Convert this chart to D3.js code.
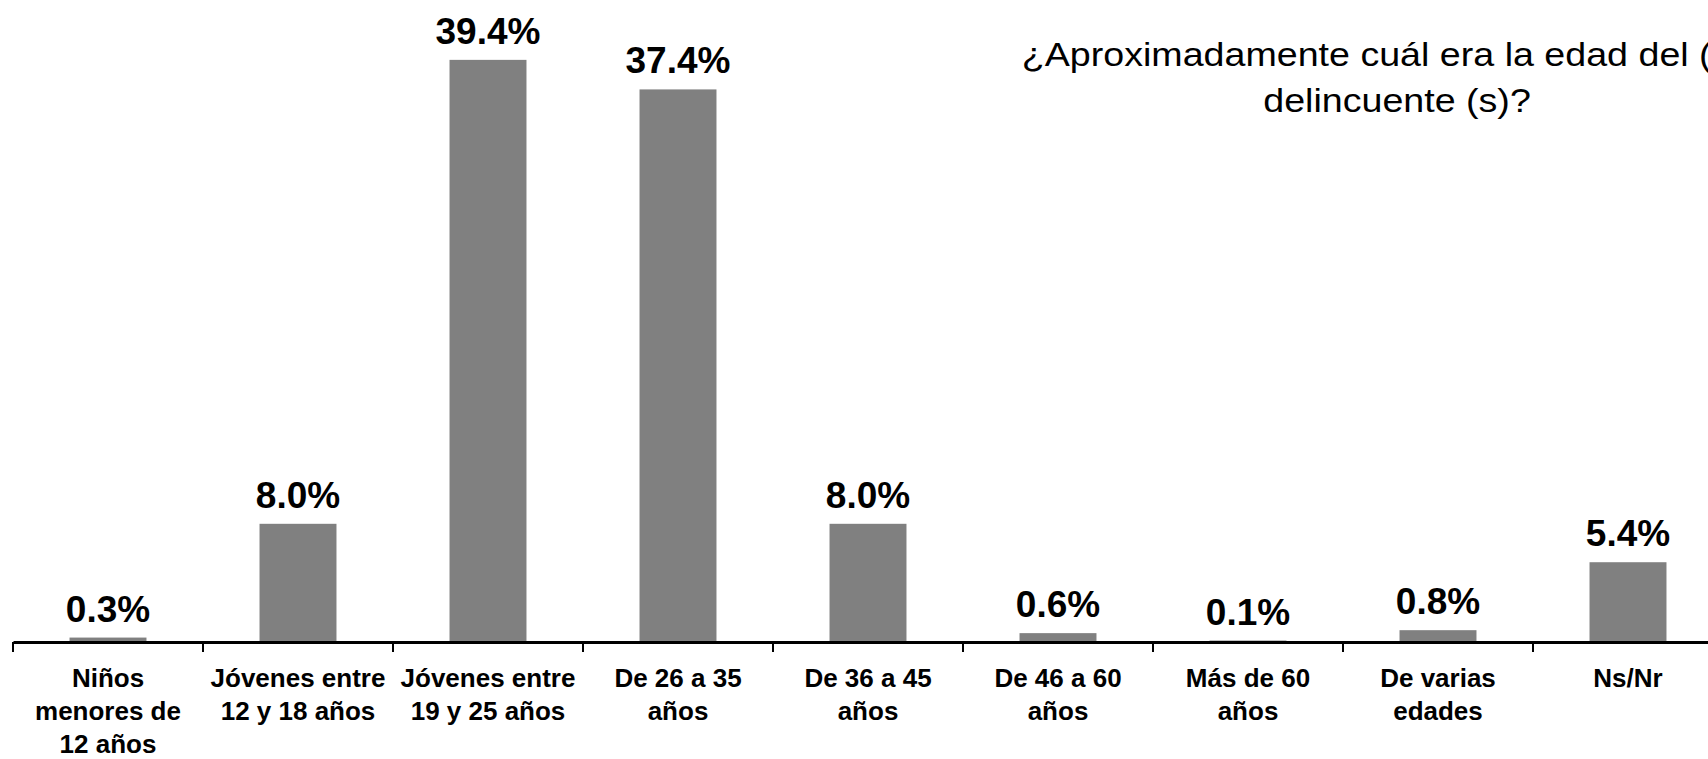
<!DOCTYPE html>
<html>
<head>
<meta charset="utf-8">
<script src="https://cdn.jsdelivr.net/npm/d3@7"></script>
<style>
  html, body { margin: 0; padding: 0; background: #ffffff; overflow: hidden; }
  svg { display: block; }
  text { font-family: "Liberation Sans", Arial, sans-serif; }
</style>
</head>
<body>
<svg id="chart" width="1708" height="759"></svg>
<script>
// ---- data ----
const categories = [
  "Niños\nmenores de\n12 años",
  "Jóvenes entre\n12 y 18 años",
  "Jóvenes entre\n19 y 25 años",
  "De 26 a 35\naños",
  "De 36 a 45\naños",
  "De 46 a 60\naños",
  "Más de 60\naños",
  "De varias\nedades",
  "Ns/Nr"
];
const values = [0.3, 8.0, 39.4, 37.4, 8.0, 0.6, 0.1, 0.8, 5.4];
const titleLines = ["¿Aproximadamente cuál era la edad del (los)", "delincuente (s)?"];

// ---- layout ----
const W = 1708, H = 759;
const x0 = 13, step = 190, baseY = 642;
const svg = d3.select("#chart");

const x = d3.scaleBand()
  .domain(categories)
  .range([x0, x0 + step * categories.length])
  .paddingInner(0.595)
  .paddingOuter(0.2975);

const y = d3.scaleLinear().domain([0, 40]).range([baseY, 51]);

// bars
svg.append("g").selectAll("rect")
  .data(values)
  .join("rect")
  .attr("x", (d, i) => x(categories[i]))
  .attr("width", x.bandwidth())
  .attr("y", d => y(d))
  .attr("height", d => baseY - y(d))
  .attr("fill", "#808080");

// value labels
svg.append("g").selectAll("text")
  .data(values)
  .join("text")
  .attr("x", (d, i) => x(categories[i]) + x.bandwidth() / 2)
  .attr("y", d => y(d) - 16)
  .attr("text-anchor", "middle")
  .attr("font-size", 37)
  .attr("font-weight", "bold")
  .attr("fill", "#000")
  .text(d => d.toFixed(1) + "%");

// axis
const axis = d3.axisBottom(x).tickSize(0).tickFormat("");
const gAxis = svg.append("g").attr("transform", `translate(0,${baseY})`).call(axis);
gAxis.select(".domain").attr("stroke", "#000").attr("stroke-width", 3);

// tick marks between categories
const bounds = d3.range(categories.length + 1).map(i => x.range()[0] + i * x.step());
gAxis.selectAll(".sep")
  .data(bounds)
  .join("line")
  .attr("class", "sep")
  .attr("x1", d => d).attr("x2", d => d)
  .attr("y1", 0).attr("y2", 10)
  .attr("stroke", "#000").attr("stroke-width", 2);

// category labels
const lab = svg.append("g").selectAll("text")
  .data(categories)
  .join("text")
  .attr("x", d => x(d) + x.bandwidth() / 2)
  .attr("y", 687)
  .attr("text-anchor", "middle")
  .attr("font-size", 26)
  .attr("font-weight", "bold")
  .attr("fill", "#000");
lab.selectAll("tspan")
  .data(d => d.split("\n"))
  .join("tspan")
  .attr("x", function () { return d3.select(this.parentNode).attr("x"); })
  .attr("dy", (d, i) => i === 0 ? 0 : 33)
  .text(d => d);

// title
const title = svg.append("g");
titleLines.forEach((t, i) => {
  title.append("text")
    .attr("transform", `translate(1397,${66 + i * 46}) scale(1.14,1)`)
    .attr("text-anchor", "middle")
    .attr("font-size", 33)
    .attr("fill", "#000")
    .text(t);
});
</script>
</body>
</html>
